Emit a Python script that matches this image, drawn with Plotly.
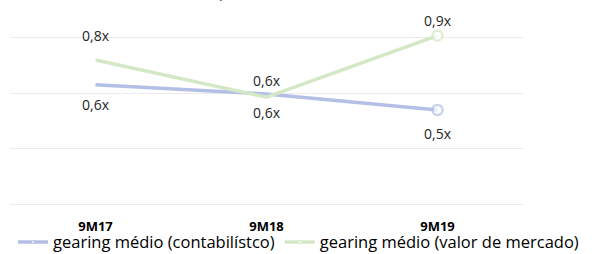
import plotly.graph_objects as go

categories = ["9M17", "9M18", "9M19"]
gearing_contab = [0.645, 0.595, 0.508]
gearing_mercado = [0.778, 0.577, 0.91]
labels_contab = ["0,6x", "0,6x", "0,5x"]
labels_mercado = ["0,8x", "0,6x", "0,9x"]
series_names = ["gearing médio (contabilístco)", "gearing médio (valor de mercado)"]
title_text = "(pós IFRS 16)"

blue = "#b4bfe6"
green = "#d5e8c6"
FONT = "Open Sans, Liberation Sans, Arial"

fig = go.Figure()
for vals, name, col in [(gearing_contab, series_names[0], blue),
                        (gearing_mercado, series_names[1], green)]:
    fig.add_trace(go.Scatter(
        x=categories, y=vals, name=name, mode="lines+markers",
        line=dict(color=col, width=3.5),
        marker=dict(size=[0, 0, 10], color="white",
                    line=dict(color=col, width=[0, 0, 2.5])),
        hoverinfo="skip",
    ))

shifts_c = [-20, -19, -23]
shifts_m = [25, 17, 15]
for x, y, t, s in zip(categories, gearing_contab, labels_contab, shifts_c):
    fig.add_annotation(x=x, y=y, text=t, showarrow=False, yshift=s,
                       font=dict(size=14, color="#262626", family=FONT))
for x, y, t, s in zip(categories, gearing_mercado, labels_mercado, shifts_m):
    fig.add_annotation(x=x, y=y, text=t, showarrow=False, yshift=s,
                       font=dict(size=14, color="#262626", family=FONT))

fig.add_annotation(x=0.49, y=1.081, xref="paper", yref="paper", text=title_text,
                   showarrow=False, yanchor="bottom",
                   font=dict(size=16, color="#404040", family=FONT))

fig.update_layout(
    width=602, height=254,
    margin=dict(l=10, r=79, t=19, b=50, autoexpand=False),
    paper_bgcolor="white", plot_bgcolor="white",
    font=dict(family=FONT, color="#000000"),
    showlegend=True,
    legend=dict(orientation="h", x=1.119, xanchor="right", y=-0.112, yanchor="top",
                font=dict(size=16.5, color="#000000"), itemwidth=30,
                tracegroupgap=0, bgcolor="rgba(0,0,0,0)"),
    xaxis=dict(type="category", range=[-0.5, 2.5], showgrid=False, showline=False,
               zeroline=False, ticks="", ticklabelstandoff=13,
               tickfont=dict(size=13, color="#000000", family=FONT, weight="bold")),
    yaxis=dict(range=[0, 1.0], dtick=0.3, tick0=0, showgrid=True, gridcolor="#ebebeb",
               gridwidth=1, zeroline=True, zerolinecolor="#ebebeb", zerolinewidth=1,
               showticklabels=False, showline=False),
)

fig.write_html("out.html", config={"displayModeBar": False},
               post_script="document.body.style.margin='0';")
